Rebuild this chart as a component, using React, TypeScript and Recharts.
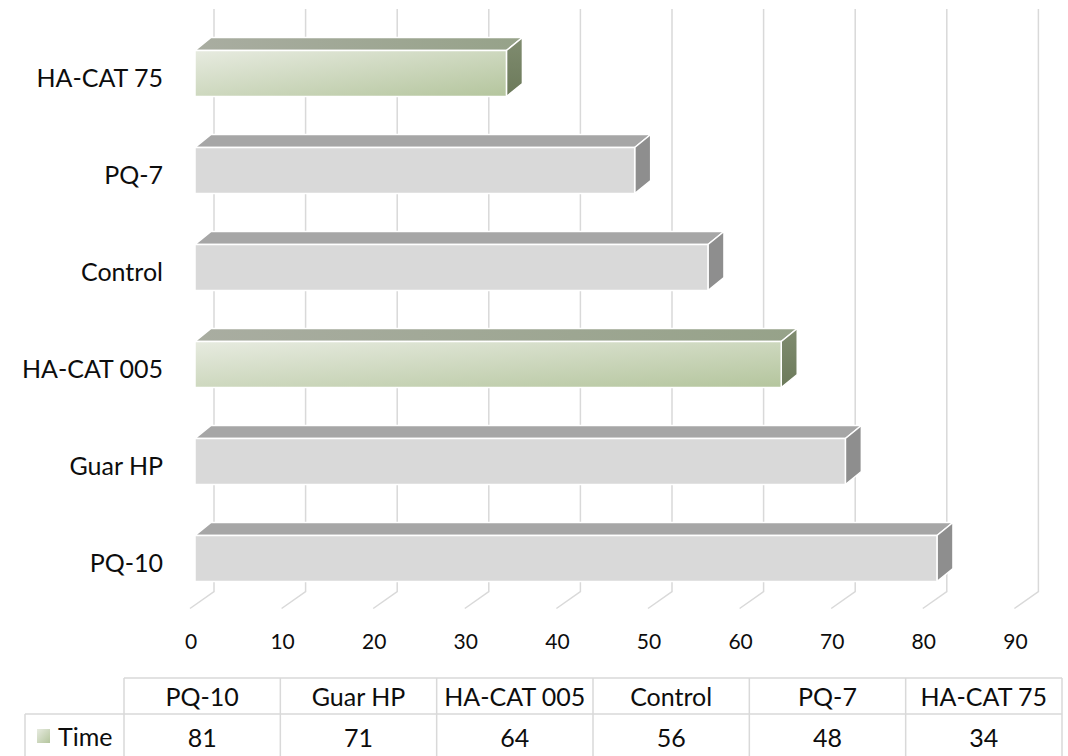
import { BarChart, Bar, XAxis, YAxis, CartesianGrid } from "recharts"

// table order (left to right); the bar axis is reversed so the first one sits at the bottom
const categories = ["PQ-10", "Guar HP", "HA-CAT 005", "Control", "PQ-7", "HA-CAT 75"]
const timeValues = [81, 71, 64, 56, 48, 34]
const valueTicks = [0, 10, 20, 30, 40, 50, 60, 70, 80, 90]
const seriesName = "Time"
const greenCategories = ["HA-CAT 005", "HA-CAT 75"]

const rows = categories.map((name, i) => ({ name, time: timeValues[i] }))

const FONT = "Lato, 'Open Sans', sans-serif"
const INK = "#0d0d0d"
const LINE = "#d9d9d9"

// bar depth
const DX = 16
const DY = 13

const W = 1068
const H = 756
const CHART_H = 678

function Box3D(props: any) {
  const { x, y, width, height, payload } = props
  if (width == null || height == null) return null
  const green = greenCategories.includes(payload?.name)
  const r = x + width
  const b = y + height
  return (
    <g stroke="#fff" strokeWidth={1.5} strokeLinejoin="round">
      <polygon
        points={`${x},${y} ${x + DX},${y - DY} ${r + DX},${y - DY} ${r},${y}`}
        fill={green ? "url(#topGreen)" : "#a6a6a6"}
      />
      <polygon
        points={`${r},${y} ${r + DX},${y - DY} ${r + DX},${b - DY} ${r},${b}`}
        fill={green ? "url(#sideGreen)" : "#8e8e8e"}
      />
      <rect x={x} y={y} width={width} height={height} fill={green ? "url(#frontGreen)" : "#d9d9d9"} />
    </g>
  )
}

// back wall line plus the floor diagonal for each value tick
function WallLine(props: any) {
  const { x1, y1, y2 } = props
  return (
    <path
      d={`M${x1 + 19},${y1 - 15.5} L${x1 + 19},${y2 - 15} L${x1 - 5},${y2 + 2}`}
      fill="none"
      stroke={LINE}
      strokeWidth={1.5}
    />
  )
}

function ValueTick(props: any) {
  const { x, y, payload } = props
  return (
    <text x={x - 4} y={y + 33.5} textAnchor="middle" dominantBaseline="central" fontFamily={FONT} fontSize={21} fill={INK}>
      {payload.value}
    </text>
  )
}

function CategoryTick(props: any) {
  const { x, y, payload } = props
  return (
    <text x={x - 32} y={y + 4} textAnchor="end" dominantBaseline="central" fontFamily={FONT} fontSize={25} fill={INK}>
      {payload.value}
    </text>
  )
}

function DataTable() {
  const left = 124
  const right = 1062
  const colW = (right - left) / categories.length
  const top = 678
  const mid = 714
  const bottom = 760
  return (
    <svg width={W} height={H} style={{ position: "absolute", left: 0, top: 0, pointerEvents: "none" }}>
      <g stroke={LINE} strokeWidth={1.5} fill="none">
        <line x1={left} y1={top} x2={right} y2={top} />
        <line x1={25} y1={mid} x2={right} y2={mid} />
        <line x1={25} y1={bottom} x2={right} y2={bottom} />
        <line x1={25} y1={mid} x2={25} y2={bottom} />
        {categories.map((_, i) => (
          <line key={i} x1={left + i * colW} y1={top} x2={left + i * colW} y2={bottom} />
        ))}
        <line x1={right} y1={top} x2={right} y2={bottom} />
      </g>
      <g fontFamily={FONT} fontSize={25} fill={INK} textAnchor="middle" dominantBaseline="central">
        {categories.map((c, i) => (
          <text key={c} x={left + (i + 0.5) * colW} y={696}>
            {c}
          </text>
        ))}
        {timeValues.map((v, i) => (
          <text key={i} x={left + (i + 0.5) * colW} y={737}>
            {v}
          </text>
        ))}
      </g>
      <rect x={37} y={729} width={13} height={14} fill="url(#frontGreen)" />
      <text x={58} y={736} fontFamily={FONT} fontSize={25} fill={INK} dominantBaseline="central">
        {seriesName}
      </text>
    </svg>
  )
}

export default function App() {
  return (
    <div style={{ position: "relative", width: W, height: H, overflow: "hidden", background: "#fff" }}>
      <style>{"body{margin:0}"}</style>
      <svg width={0} height={0} style={{ position: "absolute" }}>
        <defs>
          <linearGradient id="frontGreen" x1="0" y1="0" x2="1" y2="1">
            <stop offset="0%" stopColor="#e7ebe0" />
            <stop offset="100%" stopColor="#b4c59d" />
          </linearGradient>
          <linearGradient id="topGreen" x1="0" y1="0" x2="1" y2="0">
            <stop offset="0%" stopColor="#a9ada1" />
            <stop offset="100%" stopColor="#96a289" />
          </linearGradient>
          <linearGradient id="sideGreen" x1="0" y1="0" x2="0" y2="1">
            <stop offset="0%" stopColor="#808c70" />
            <stop offset="100%" stopColor="#6c7a5a" />
          </linearGradient>
        </defs>
      </svg>
      <BarChart
        width={W}
        height={CHART_H}
        data={rows}
        layout="vertical"
        margin={{ top: 24.5, right: 48.6, bottom: 0, left: 0 }}
      >
        <CartesianGrid horizontal={false} vertical={WallLine} />
        <XAxis
          type="number"
          domain={[0, 90]}
          ticks={valueTicks}
          axisLine={false}
          tickLine={false}
          tickSize={0}
          tickMargin={0}
          height={71.5}
          tick={ValueTick}
          interval={0}
        />
        <YAxis
          type="category"
          dataKey="name"
          reversed
          width={195}
          axisLine={false}
          tickLine={false}
          tickSize={0}
          tickMargin={0}
          tick={CategoryTick}
          interval={0}
        />
        <Bar dataKey="time" name={seriesName} barSize={46} shape={Box3D} isAnimationActive={false} />
      </BarChart>
      <DataTable />
    </div>
  )
}
